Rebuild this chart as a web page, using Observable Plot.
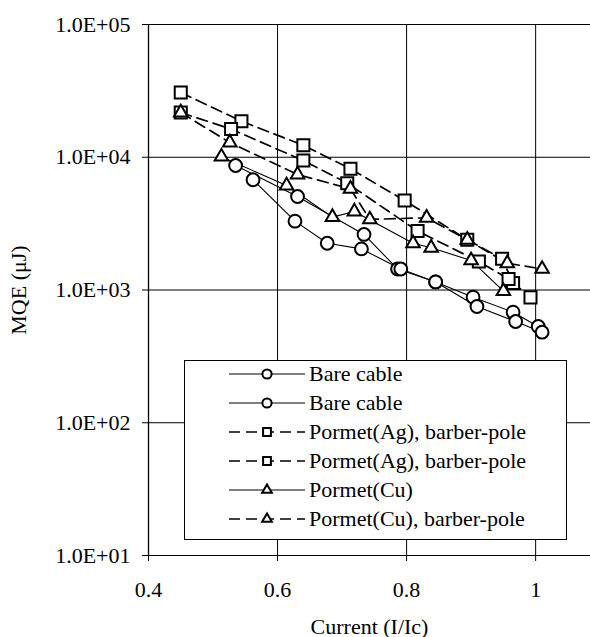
<!DOCTYPE html>
<html>
<head>
<meta charset="utf-8">
<script src="https://cdn.jsdelivr.net/npm/d3@7"></script>
<script src="https://cdn.jsdelivr.net/npm/@observablehq/plot@0.6"></script>
<style>
  html, body { margin: 0; padding: 0; background: #fff; }
  #wrap { position: relative; width: 590px; height: 637px; font-family: "Liberation Serif", "Times New Roman", serif; }
  #legend { position: absolute; left: 184px; top: 360px; width: 381px; height: 178px; border: 1px solid #000; background: #fff; box-sizing: content-box; }
  .row { position: absolute; left: 0; height: 28px; display: flex; align-items: center; font-size: 22px; color: #000; white-space: nowrap; }
  .row svg { margin-left: 44px; margin-right: 4px; }
</style>
</head>
<body>
<div id="wrap"></div>
<script>
// ---- data ----
const bare1X = [0.535, 0.631, 0.734, 0.786, 0.845, 0.903, 0.965, 1.004];
const bare1Y = [8670, 5060, 2620, 1440, 1150, 883, 681, 531];
const bare2X = [0.562, 0.627, 0.677, 0.730, 0.791, 0.845, 0.909, 0.969, 1.010];
const bare2Y = [6770, 3300, 2250, 2040, 1440, 1150, 751, 579, 481];
const ag1X = [0.45, 0.544, 0.640, 0.713, 0.797, 0.894, 0.948, 0.965];
const ag1Y = [30700, 18700, 12300, 8180, 4720, 2390, 1720, 1130];
const ag2X = [0.45, 0.528, 0.640, 0.708, 0.817, 0.912, 0.958, 0.992];
const ag2Y = [21700, 16300, 9440, 6380, 2780, 1640, 1210, 880];
const cuX = [0.513, 0.614, 0.685, 0.719, 0.810, 0.838, 0.900, 0.950];
const cuY = [10100, 6120, 3540, 3900, 2250, 2080, 1670, 980];
const cuBpX = [0.45, 0.526, 0.631, 0.713, 0.743, 0.831, 0.894, 0.956, 1.010];
const cuBpY = [21700, 12900, 7410, 5780, 3400, 3500, 2390, 1590, 1440];

const seriesNames = ["Bare cable", "Bare cable", "Pormet(Ag), barber-pole", "Pormet(Ag), barber-pole", "Pormet(Cu)", "Pormet(Cu), barber-pole"];
const seriesSymbols = ["circle", "circle", "square", "square", "triangle", "triangle"];
const seriesDashed = [false, false, true, true, false, true];

const yTicks = [1e1, 1e2, 1e3, 1e4, 1e5];
const yTickLabels = ["1.0E+01", "1.0E+02", "1.0E+03", "1.0E+04", "1.0E+05"];
const xTicks = [0.4, 0.6, 0.8, 1.0];
const xTickLabels = ["0.4", "0.6", "0.8", "1"];
const xGrid = [0.6, 0.8, 1.0];

const xs = [bare1X, bare2X, ag1X, ag2X, cuX, cuBpX];
const ys = [bare1Y, bare2Y, ag1Y, ag2Y, cuY, cuBpY];
const series = xs.map((xv, i) => xv.map((x, j) => ({x, y: ys[i][j], s: i})));

const DASH = "11,6";
const symbolR = {circle: 6.4, square: 6.8, triangle: 5.0};
const lineMarks = series.map((d, i) => Plot.line(d, {
  x: "x", y: "y", stroke: "#000",
  strokeWidth: seriesDashed[i] ? 1.7 : 1.1,
  strokeDasharray: seriesDashed[i] ? DASH : null
}));
const dotMarks = series.map((d, i) => Plot.dot(d, {
  x: "x", y: "y", symbol: () => seriesSymbols[i],
  r: symbolR[seriesSymbols[i]],
  fill: "#fff", stroke: "#000", strokeWidth: 2
}));

const chart = Plot.plot({
  width: 590,
  height: 637,
  marginLeft: 148,
  marginRight: 0,
  marginTop: 24,
  marginBottom: 82,
  style: {fontFamily: "'Liberation Serif', 'Times New Roman', serif", fontSize: "22px", color: "#000", background: "#fff"},
  x: {domain: [0.4, 1.085]},
  y: {type: "log", domain: [10, 1e5]},
  symbol: {type: "identity"},
  marks: [
    Plot.ruleY(yTicks, {stroke: "#000", strokeWidth: 1}),
    Plot.ruleX(xGrid, {y1: 10, y2: 1e5, stroke: "#000", strokeWidth: 1}),
    Plot.ruleX([0.4], {y1: 10, y2: 1e5, stroke: "#000", strokeWidth: 1.3}),
    Plot.axisY({
      ticks: yTicks, tickSize: 6, tickPadding: 12,
      tickFormat: (d) => yTickLabels[yTicks.indexOf(d)],
      label: "MQE (μJ)", labelAnchor: "center", labelArrow: "none", labelOffset: 138,
      fontSize: 22
    }),
    Plot.axisX({
      ticks: xTicks, tickSize: 6, tickPadding: 20,
      tickFormat: (d) => xTickLabels[xTicks.findIndex(t => Math.abs(t - d) < 1e-9)],
      label: "Current (I/Ic)", labelAnchor: "center", labelArrow: "none", labelOffset: 78,
      fontSize: 22
    }),
    ...lineMarks,
    ...dotMarks
  ]
});

const wrap = document.getElementById("wrap");
wrap.appendChild(chart);

// legend box (drawn on top of the plot area, as in the original)
const legend = document.createElement("div");
legend.id = "legend";
const rowTops = [-1, 28, 57, 86, 115, 144];
const legendArea = {circle: Math.PI * 4.6 * 4.6, square: Math.PI * 4.4 * 4.4, triangle: Math.PI * 3.6 * 3.6};
seriesNames.forEach((name, i) => {
  const row = document.createElement("div");
  row.className = "row";
  row.style.top = (rowTops[i]) + "px";
  const svg = d3.create("svg").attr("width", 76).attr("height", 20);
  svg.append("line").attr("x1", 0).attr("x2", 76).attr("y1", 10).attr("y2", 10)
    .attr("stroke", "#000").attr("stroke-width", seriesDashed[i] ? 1.7 : 1.1)
    .attr("stroke-dasharray", seriesDashed[i] ? "11,6" : null);
  const sym = {circle: d3.symbolCircle, square: d3.symbolSquare, triangle: d3.symbolTriangle}[seriesSymbols[i]];
  svg.append("path").attr("transform", "translate(38,10)")
    .attr("d", d3.symbol(sym, legendArea[seriesSymbols[i]])())
    .attr("fill", "#fff").attr("stroke", "#000").attr("stroke-width", 2);
  row.appendChild(svg.node());
  const span = document.createElement("span");
  span.textContent = name;
  row.appendChild(span);
  legend.appendChild(row);
});
wrap.appendChild(legend);
</script>
</body>
</html>
